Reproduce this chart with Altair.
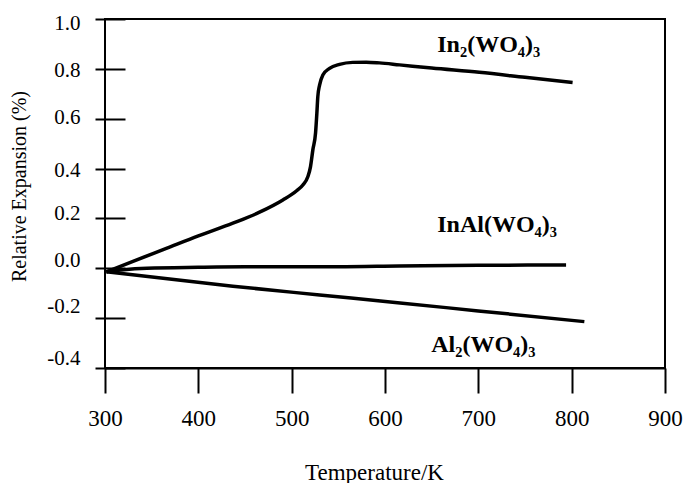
import altair as alt
import pandas as pd

# ---- data ----
in2_T = [301.5, 330, 365.7, 400, 437, 465, 490.6, 505, 512, 517.3, 520.2, 522.7, 525.6, 527, 528,
         529.9, 533.4, 540.6, 551.3, 565.5, 579.9, 594, 615.5, 650, 701, 750, 801]
in2_v = [-0.014, 0.028, 0.080, 0.130, 0.181, 0.224, 0.274, 0.310, 0.334, 0.367, 0.408, 0.475, 0.543,
         0.622, 0.688, 0.735, 0.775, 0.802, 0.818, 0.826, 0.827, 0.824, 0.816, 0.803, 0.786, 0.766, 0.745]

inal_T = [301.5, 320, 345, 400, 450, 500, 550, 615, 700, 794]
inal_v = [-0.014, -0.006, 0.000, 0.004, 0.006, 0.006, 0.006, 0.009, 0.012, 0.013]

al2_T = [301.5, 437, 530, 613.5, 700, 813.6]
al2_v = [-0.014, -0.072, -0.107, -0.138, -0.171, -0.214]

series_names = ["In\u2082(WO\u2084)\u2083", "InAl(WO\u2084)\u2083", "Al\u2082(WO\u2084)\u2083"]
label_T = [656, 656, 649.5]
label_v = [0.869, 0.146, -0.336]

x_ticks = [300, 400, 500, 600, 700, 800, 900]
y_ticks = [-0.4, -0.2, 0.0, 0.2, 0.4, 0.6, 0.8, 1.0]
# small vertical shifts of the y tick labels seen in the reference (pixels)
y_label_shift = [-10, -12, -8, -5, 2, -1, 2, 4]

rows = []
for name, Ts, vs in zip(series_names, [in2_T, inal_T, al2_T], [in2_v, inal_v, al2_v]):
    for i, (t, v) in enumerate(zip(Ts, vs)):
        rows.append({"series": name, "T": t, "v": v, "order": i})
df = pd.DataFrame(rows)
labels = pd.DataFrame({"name": series_names, "T": label_T, "v": label_v})

FONT = "Liberation Serif"

label_offset = {
    "condition": [
        {"test": f"abs(datum.value - ({t})) < 0.01", "value": s}
        for t, s in zip(y_ticks, y_label_shift)
    ],
    "value": 0,
}

x_enc = alt.X("T:Q", scale=alt.Scale(domain=[300, 900], nice=False, zero=False),
              axis=alt.Axis(values=x_ticks, title="Temperature/K", grid=False,
                            tickSize=25, tickWidth=2, tickColor="black",
                            domainColor="black", domainWidth=2,
                            labelFont=FONT, labelFontSize=23, labelColor="black",
                            labelPadding=14, labelFlush=False, labelOverlap=False,
                            titleFont=FONT, titleFontSize=23, titleFontWeight="normal",
                            titleColor="black", titleX=269, titleY=111,
                            titleBaseline="alphabetic", titleAlign="center"))
y_enc = alt.Y("v:Q", scale=alt.Scale(domain=[-0.4, 1.0], nice=False, zero=False),
              axis=alt.Axis(values=y_ticks, format=".1f",
                            labelExpr="replace(datum.label, '\u2212', '-')",
                            title="Relative Expansion (%)",
                            grid=False, domain=False, offset=-20,
                            tickSize=30, tickWidth=2, tickColor="black",
                            labelFont=FONT, labelFontSize=21, labelColor="black",
                            labelPadding=15, labelOffset=label_offset, labelFlush=False,
                            labelOverlap=False,
                            titleFont=FONT, titleFontSize=20, titleFontWeight="normal",
                            titleColor="black", titleX=-106, titleY=167, titleAngle=270,
                            titleBaseline="middle", titleAlign="center"))

lines = alt.Chart(df).mark_line(color="black", strokeWidth=3.5, interpolate="monotone").encode(
    x=x_enc, y=y_enc, detail="series:N", order="order:Q"
)

texts = alt.Chart(labels).mark_text(font=FONT, fontSize=24, fontWeight="bold", color="black",
                                    align="left", baseline="alphabetic").encode(
    x="T:Q", y="v:Q", text="name:N"
)

chart = alt.layer(lines, texts).properties(
    width=560, height=349,
    autosize=alt.AutoSizeParams(type="none"),
    padding={"left": 105, "top": 19, "right": 26, "bottom": 115},
    background="white",
).configure_view(stroke="black", strokeWidth=2).configure_axis(labelFont=FONT, titleFont=FONT)

chart.save("out.html", embed_options={"renderer": "svg", "actions": False})
